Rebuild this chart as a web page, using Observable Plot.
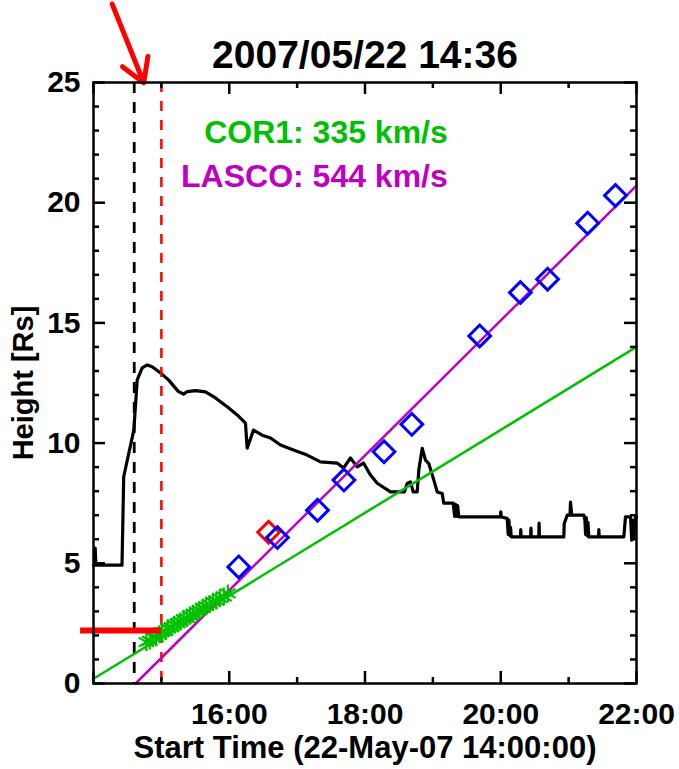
<!DOCTYPE html>
<html><head><meta charset="utf-8">
<script src="https://cdn.jsdelivr.net/npm/d3@7"></script>
<script src="https://cdn.jsdelivr.net/npm/@observablehq/plot@0.6"></script>
<style>
html,body{margin:0;padding:0;background:#fff}
svg{display:block}
</style></head><body><div id="chart"></div>
<script>
// ---------- data ----------
const titleText = "2007/05/22 14:36";
const xTitle = "Start Time (22-May-07 14:00:00)";
const yTitle = "Height [Rs]";
const xMajorTicks = [14, 16, 18, 20, 22];
const xMinorTicks = [15, 17, 19, 21];
const xLabelValues = [16, 18, 20, 22];
const xLabels = ["16:00", "18:00", "20:00", "22:00"];
const yMajorTicks = [0, 5, 10, 15, 20, 25];
const yLabels = ["0", "5", "10", "15", "20", "25"];
const yMinorTicks = d3.range(0, 26).filter(v => v % 5 !== 0);

// black light curve (scaled), time in hours
const lcTime = [14.000,14.020,14.025,14.035,14.420,14.445,14.594,14.644,14.717,14.791,14.865,14.987,15.105,15.252,15.326,15.380,15.503,15.650,15.797,15.970,16.117,16.239,16.264,16.357,16.485,16.608,16.755,16.947,17.148,17.344,17.590,17.683,17.786,17.885,17.978,18.081,18.180,18.376,18.580,18.622,18.670,18.710,18.769,18.793,18.843,18.891,18.940,19.014,19.064,19.137,19.161,19.300,19.320,19.335,19.350,19.365,19.382,19.996,20.000,20.010,20.095,20.110,20.120,20.135,20.144,20.155,20.290,20.295,20.300,20.440,20.445,20.450,20.560,20.565,20.570,20.929,20.935,20.979,21.020,21.028,21.045,21.224,21.240,21.250,21.260,21.275,21.285,21.297,21.440,21.445,21.450,21.813,21.838,21.912,21.930,21.945,21.960,21.985,22.000];
const lcValue = [4.92,4.92,5.63,4.92,4.92,8.60,10.54,12.63,13.13,13.25,13.18,12.92,12.63,12.14,12.04,12.14,12.18,12.13,11.88,11.51,11.17,10.83,9.79,10.54,10.33,10.21,9.92,9.71,9.50,9.22,9.17,8.96,9.38,9.01,9.17,8.67,8.33,7.97,7.97,8.32,8.39,7.97,7.97,8.88,9.78,9.29,9.15,8.46,7.97,7.90,7.50,7.50,6.95,7.45,6.95,7.40,6.93,6.93,7.14,6.93,6.86,6.20,6.80,6.15,6.50,6.10,6.10,6.40,6.10,6.10,6.46,6.10,6.10,6.67,6.10,6.10,6.65,7.00,7.00,7.55,7.00,7.00,6.79,6.20,6.90,6.15,6.70,6.10,6.10,6.40,6.10,6.10,6.93,6.93,5.96,6.80,6.05,6.93,6.93];

// COR1 height-time points (green asterisks)
const cor1Time = [14.78,14.83,14.87,14.92,14.97,15.01,15.06,15.10,15.15,15.19,15.24,15.28,15.33,15.38,15.42,15.47,15.52,15.56,15.61,15.66,15.71,15.76,15.81,15.86,15.92,15.98];
const cor1Height = [1.72,1.78,1.95,1.92,2.05,2.15,2.18,2.30,2.35,2.45,2.50,2.58,2.68,2.72,2.82,2.90,2.98,3.05,3.15,3.22,3.30,3.40,3.45,3.55,3.62,3.75];

// LASCO height-time points (blue diamonds)
const lascoTime = [16.14,16.71,17.30,17.69,18.28,18.69,19.69,20.29,20.69,21.28,21.69];
const lascoHeight = [4.85,6.07,7.21,8.46,9.64,10.78,14.46,16.26,16.82,19.15,20.30];
const lascoRedTime = [16.58];
const lascoRedHeight = [6.29];

// linear fits
const cor1FitTime = [14, 22];
const cor1FitHeight = [0.2, 14.0];
const lascoFitTime = [14.62, 22];
const lascoFitHeight = [0, 20.71];

// event markers
const flareTime = 14.6;      // 14:36
const onsetTime = 15.0;
const onsetHeight = 2.2;
const onsetBarStart = 13.81;
const arrowFrom = [14.275, 28.26];
const arrowTo = [14.74, 24.99];

const fitLabels = ["COR1: 335 km/s", "LASCO: 544 km/s"];
const fitLabelTime = [19.22, 19.22];
const fitLabelHeight = [22.9, 21.1];

// ---------- layout ----------
const W = 679, H = 769, ML = 93, MR = 43, MT = 82, MB = 86;
const FW = W - ML - MR, FH = H - MT - MB;
const MAJ = 12, MIN = 6;
const GREEN = "#00c000", MAGENTA = "#c000c0", BLUE = "#0000ff", RED = "#ff0000";
const FONT = "'Liberation Sans', Arial, Helvetica, sans-serif";

const lc = lcTime.map((t, i) => ({t, v: lcValue[i]}));
const cor1 = cor1Time.map((t, i) => ({t, h: cor1Height[i]}));
const lasco = lascoTime.map((t, i) => ({t, h: lascoHeight[i]}));
const lascoRed = lascoRedTime.map((t, i) => ({t, h: lascoRedHeight[i]}));
const cor1Fit = cor1FitTime.map((t, i) => ({t, h: cor1FitHeight[i]}));
const lascoFit = lascoFitTime.map((t, i) => ({t, h: lascoFitHeight[i]}));

const tickStyle = {stroke: "black", strokeWidth: 2.5};

const chart = Plot.plot({
  width: W, height: H,
  marginLeft: ML, marginRight: MR, marginTop: MT, marginBottom: MB,
  style: {fontFamily: FONT, background: "white", color: "black"},
  x: {domain: [14, 22], axis: null},
  y: {domain: [0, 25], axis: null},
  marks: [
    // light curve
    Plot.line(lc, {x: "t", y: "v", stroke: "black", strokeWidth: 3.2, strokeLinejoin: "round"}),
    // event lines
    Plot.ruleX([flareTime], {stroke: "black", strokeWidth: 2.8, strokeDasharray: "11,9"}),
    Plot.ruleX([onsetTime], {stroke: RED, strokeWidth: 2.5, strokeDasharray: "10,9"}),
    // fits
    Plot.line(cor1Fit, {x: "t", y: "h", stroke: GREEN, strokeWidth: 2.5}),
    Plot.line(lascoFit, {x: "t", y: "h", stroke: MAGENTA, strokeWidth: 2.5}),
    // data points
    Plot.dot(cor1, {x: "t", y: "h", symbol: "asterisk", r: 8.5, stroke: GREEN, strokeWidth: 2.2}),
    Plot.dot(lascoRed, {x: "t", y: "h", symbol: "diamond2", r: 9.8, stroke: RED, strokeWidth: 3}),
    Plot.dot(lasco, {x: "t", y: "h", symbol: "diamond2", r: 9.8, stroke: BLUE, strokeWidth: 3}),
    // onset bar and arrow
    Plot.ruleY([onsetHeight], {x1: onsetBarStart, x2: onsetTime, stroke: RED, strokeWidth: 6}),
    Plot.arrow([0], {x1: arrowFrom[0], y1: arrowFrom[1], x2: arrowTo[0], y2: arrowTo[1], stroke: RED, strokeWidth: 5, headLength: 8, headAngle: 62}),
    // fit labels
    Plot.text(fitLabels, {x: (d, i) => fitLabelTime[i], y: (d, i) => fitLabelHeight[i], text: d => d, textAnchor: "end", fill: (d, i) => i === 0 ? GREEN : MAGENTA, fontSize: 32, fontWeight: "bold"}),
    // frame and inward ticks (all four sides)
    Plot.frame({stroke: "black", strokeWidth: 2.5}),
    Plot.tickX(xMajorTicks, {x: d => d, insetTop: FH - MAJ, ...tickStyle}),
    Plot.tickX(xMinorTicks, {x: d => d, insetTop: FH - MIN, ...tickStyle}),
    Plot.tickX(xMajorTicks, {x: d => d, insetBottom: FH - MAJ, ...tickStyle}),
    Plot.tickX(xMinorTicks, {x: d => d, insetBottom: FH - MIN, ...tickStyle}),
    Plot.tickY(yMajorTicks, {y: d => d, insetRight: FW - MAJ, ...tickStyle}),
    Plot.tickY(yMinorTicks, {y: d => d, insetRight: FW - MIN, ...tickStyle}),
    Plot.tickY(yMajorTicks, {y: d => d, insetLeft: FW - MAJ, ...tickStyle}),
    Plot.tickY(yMinorTicks, {y: d => d, insetLeft: FW - MIN, ...tickStyle}),
    // tick labels
    Plot.text(xLabelValues, {x: d => d, text: (d, i) => xLabels[i], frameAnchor: "bottom", lineAnchor: "middle", dy: 31, fontSize: 30, fontWeight: "bold", fill: "black"}),
    Plot.text(yMajorTicks, {y: d => d, text: (d, i) => yLabels[i], frameAnchor: "left", lineAnchor: "middle", dx: -13, textAnchor: "end", fontSize: 30, fontWeight: "bold", fill: "black"}),
    // titles
    Plot.text([xTitle], {frameAnchor: "bottom", lineAnchor: "middle", dy: 65, fontSize: 31, fontWeight: "bold", fill: "black"}),
    Plot.text([yTitle], {frameAnchor: "left", lineAnchor: "middle", textAnchor: "middle", dx: -70, rotate: -90, fontSize: 29, fontWeight: "bold", fill: "black"}),
    Plot.text([titleText], {frameAnchor: "top", lineAnchor: "middle", dy: -27, fontSize: 39, fontWeight: "bold", fill: "black"})
  ]
});
document.getElementById("chart").appendChild(chart);
</script></body></html>
